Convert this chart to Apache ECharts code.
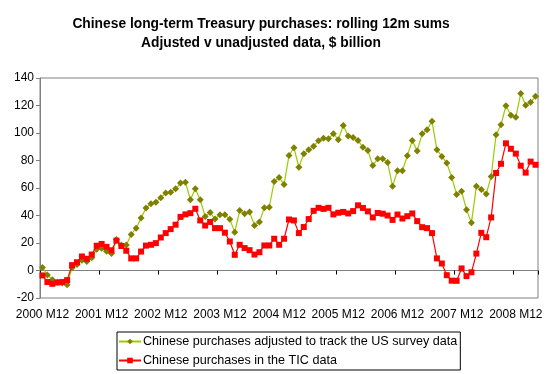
<!DOCTYPE html>
<html>
<head>
<meta charset="utf-8">
<script src="https://cdn.jsdelivr.net/npm/echarts@6/dist/echarts.min.js"></script>
<style>
html,body{margin:0;padding:0;background:#fff;}
#chart{width:547px;height:374px;}
</style>
</head>
<body>
<div id="chart"></div>
<script>
// Months from 2000 M12 to 2009 M4
var categories = [];
(function(){
  var y = 2000, m = 12;
  for (var k = 0; k < 101; k++) {
    categories.push(y + ' M' + m);
    m++; if (m > 12) { m = 1; y++; }
  }
})();

var adjustedName = 'Chinese purchases adjusted to track the US survey data';
var ticName = 'Chinese purchases in the TIC data';

var adjusted = [
  2.2, -3.2, -6.8, -8.5, -9.0, -10.4, 2.0, 4.3, 7.5, 6.5,
  9.3, 15.5, 16.2, 14.0, 12.4, 22.5, 18.6, 18.6, 26.2, 30.8,
  38.1, 45.4, 48.5, 49.7, 53.0, 56.3, 57.0, 59.4, 63.6, 64.2,
  51.5, 59.5, 51.5, 39.3, 42.1, 37.5, 40.5, 40.5, 37.2, 27.9,
  43.6, 41.2, 42.6, 32.8, 35.2, 45.7, 46.0, 64.8, 67.7, 62.6,
  83.6, 89.3, 75.1, 85.0, 87.9, 90.4, 94.4, 96.1, 95.9, 99.5,
  95.1, 105.4, 97.8, 96.8, 94.5, 89.6, 87.3, 76.3, 81.3, 81.3,
  78.6, 61.2, 72.6, 72.6, 83.5, 94.5, 87.0, 99.4, 102.4, 108.5,
  87.9, 83.0, 78.2, 67.7, 55.3, 57.7, 44.2, 34.8, 61.2, 59.0,
  55.6, 68.4, 98.8, 106.0, 119.8, 112.9, 111.4, 128.8, 120.1, 122.4,
  126.7
];

var tic = [
  -3.6, -8.4, -9.7, -8.7, -8.4, -7.0, 3.9, 6.0, 10.2, 8.5,
  11.6, 18.0, 19.3, 17.2, 14.7, 21.7, 17.8, 14.4, 8.8, 8.8,
  13.8, 18.1, 18.7, 19.9, 24.0, 27.2, 30.1, 33.3, 39.0, 40.8,
  41.7, 44.9, 36.4, 32.7, 35.3, 30.8, 30.8, 27.5, 21.1, 11.4,
  18.7, 16.3, 14.8, 11.6, 13.3, 18.2, 18.2, 23.1, 18.7, 23.1,
  37.1, 36.4, 27.2, 31.6, 37.4, 43.4, 45.6, 44.8, 45.6, 40.8,
  42.0, 42.6, 41.5, 43.2, 47.4, 45.5, 43.0, 38.6, 41.8, 41.3,
  40.0, 36.8, 40.7, 37.8, 39.5, 41.5, 35.9, 31.5, 30.8, 27.2,
  8.8, 5.1, -3.4, -7.4, -7.5, 1.5, -4.1, -1.3, 12.3, 27.4,
  24.2, 38.6, 70.9, 77.6, 92.5, 88.5, 85.0, 76.2, 71.2, 79.2,
  76.9
];

var titleText = 'Chinese long-term Treasury purchases: rolling 12m sums\nAdjusted v unadjusted data, $ billion';

var FONT = '"Liberation Sans", Arial, sans-serif';
var chart = echarts.init(document.getElementById('chart'), null, {renderer: 'canvas'});
chart.setOption({
  animation: false,
  backgroundColor: '#ffffff',
  textStyle: {fontFamily: FONT},
  title: {
    text: titleText,
    left: 261,
    top: 15,
    textAlign: 'center',
    padding: 0,
    textStyle: {fontFamily: FONT, fontSize: 13.8, fontWeight: 'bold', color: '#000', lineHeight: 19}
  },
  legend: {
    orient: 'vertical',
    left: 117,
    top: 332,
    padding: [3, 3, 3, 1],
    itemGap: 6,
    itemWidth: 22,
    itemHeight: 7,
    borderColor: '#000',
    borderWidth: 1,
    textStyle: {fontFamily: FONT, fontSize: 12.6, color: '#000', padding: [0, 0, 0, -3]},
    data: [adjustedName, ticName]
  },
  grid: {
    left: 40, right: 9, top: 78, bottom: 76,
    show: true, borderColor: '#808080', borderWidth: 1, backgroundColor: '#fff'
  },
  xAxis: [
    {
      type: 'category',
      data: categories,
      boundaryGap: true,
      position: 'bottom',
      axisLine: {show: true, onZero: true, lineStyle: {color: '#808080', width: 1}},
      axisTick: {show: true, interval: 11, length: 4, lineStyle: {color: '#000'}},
      axisLabel: {show: false},
      splitLine: {show: false}
    },
    {
      type: 'category',
      data: categories,
      boundaryGap: true,
      position: 'bottom',
      axisLine: {show: false, onZero: false},
      axisTick: {show: false},
      axisLabel: {show: true, interval: 11, margin: 11, fontSize: 12, color: '#000', fontFamily: FONT},
      splitLine: {show: false}
    }
  ],
  yAxis: {
    type: 'value',
    min: -20, max: 140, interval: 20,
    axisLine: {show: true, lineStyle: {color: '#808080'}},
    axisTick: {show: true, length: 4, lineStyle: {color: '#808080'}},
    axisLabel: {fontSize: 12, color: '#000', margin: 6, fontFamily: FONT},
    splitLine: {show: false}
  },
  series: [
    {
      name: adjustedName,
      type: 'line',
      xAxisIndex: 0,
      data: adjusted,
      symbol: 'diamond',
      symbolSize: 7,
      showAllSymbol: true,
      lineStyle: {color: '#99CC00', width: 1.2},
      itemStyle: {color: '#808000', borderWidth: 0},
      z: 3
    },
    {
      name: ticName,
      type: 'line',
      xAxisIndex: 0,
      data: tic,
      symbol: 'rect',
      symbolSize: 6,
      showAllSymbol: true,
      lineStyle: {color: '#FF0000', width: 1.2},
      itemStyle: {color: '#FF0000', borderWidth: 0},
      z: 4
    }
  ]
});
</script>
</body>
</html>
